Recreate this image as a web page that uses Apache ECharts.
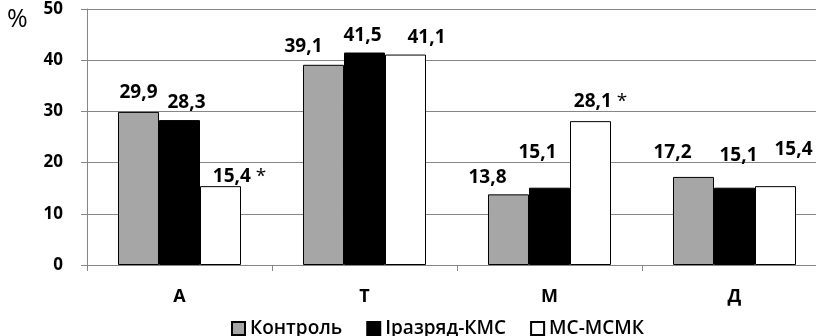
<!DOCTYPE html>
<html>
<head>
<meta charset="utf-8">
<script src="https://cdn.jsdelivr.net/npm/echarts@6/dist/echarts.min.js"></script>
<style>html,body{margin:0;padding:0;background:#fff}#c{width:816px;height:336px}</style>
</head>
<body>
<div id="c"></div>
<script>
// ---- data ----
const categories = ['А', 'Т', 'М', 'Д'];
const seriesNames = ['Контроль', 'Іразряд-КМС', 'МС-МСМК'];
const control = [29.9, 39.1, 13.8, 17.2];
const razryad = [28.3, 41.5, 15.1, 15.1];
const msmsmk = [15.4, 41.1, 28.1, 15.4];
const msmsmkMarks = ['*', '', '*', ''];
const yTicks = [0, 10, 20, 30, 40, 50];
const unitLabel = '%';

// ---- label placement (style only) ----
const labelDx = [[0, -20, -21, -21], [7, -2, -12, 4], [19, 21, 10, 18]];
const labelGap = [[10, 9, 7, 15], [8, 7, 26, 23], [0, 7, 10, 27]];
const colors = ['#A6A6A6', '#000000', '#FFFFFF'];
const FONT = 'Open Sans';

function fmt(v) { return v.toFixed(1).replace('.', ','); }

function buildSeries(idx, values, marks) {
  return {
    name: seriesNames[idx],
    type: 'bar',
    barGap: '0%',
    barCategoryGap: '33.5%',
    itemStyle: { color: colors[idx], borderColor: '#000', borderWidth: 1 },
    emphasis: { disabled: true },
    data: values.map((v, i) => ({
      value: v,
      label: {
        show: true,
        position: 'top',
        distance: labelGap[idx][i],
        offset: [labelDx[idx][i], 0],
        formatter: () => marks && marks[i] ? '{n|' + fmt(v) + '}{s| ' + marks[i] + '}' : '{n|' + fmt(v) + '}',
        rich: {
          n: { fontFamily: FONT, fontWeight: 'bold', fontSize: 19, color: '#000' },
          s: { fontFamily: FONT, fontWeight: 'normal', fontSize: 19, color: '#000' }
        }
      }
    }))
  };
}

const chart = echarts.init(document.getElementById('c'), null, { renderer: 'canvas' });
chart.setOption({
  animation: false,
  backgroundColor: '#fff',
  title: {
    text: unitLabel, left: 2, top: 2,
    textStyle: { fontFamily: FONT, fontWeight: 'normal', fontSize: 25, color: '#000' }
  },
  legend: {
    data: seriesNames,
    left: 226, top: 314,
    itemWidth: 13, itemHeight: 13, itemGap: 24,
    icon: 'rect',
    textStyle: { fontFamily: FONT, fontWeight: 600, fontSize: 19, color: '#000' }
  },
  grid: { left: 87, right: -11, top: 9, bottom: 71, outerBoundsMode: 'none', containLabel: false },
  xAxis: {
    type: 'category',
    data: categories,
    axisLine: { lineStyle: { color: '#868686', width: 1 } },
    axisTick: { show: true, length: 6, lineStyle: { color: '#868686' } },
    axisLabel: { margin: 23, fontFamily: FONT, fontWeight: 'bold', fontSize: 18, color: '#000' },
    splitLine: { show: false }
  },
  yAxis: {
    type: 'value',
    min: yTicks[0], max: yTicks[yTicks.length - 1], interval: yTicks[1] - yTicks[0],
    axisLine: { show: true, lineStyle: { color: '#868686', width: 1 } },
    axisTick: { show: true, length: 6, lineStyle: { color: '#868686' } },
    axisLabel: { margin: 24, fontFamily: FONT, fontWeight: 'bold', fontSize: 17, color: '#000' },
    splitLine: { show: true, lineStyle: { color: '#868686', width: 1 } }
  },
  series: [
    buildSeries(0, control, null),
    buildSeries(1, razryad, null),
    buildSeries(2, msmsmk, msmsmkMarks)
  ]
});
</script>
</body>
</html>
